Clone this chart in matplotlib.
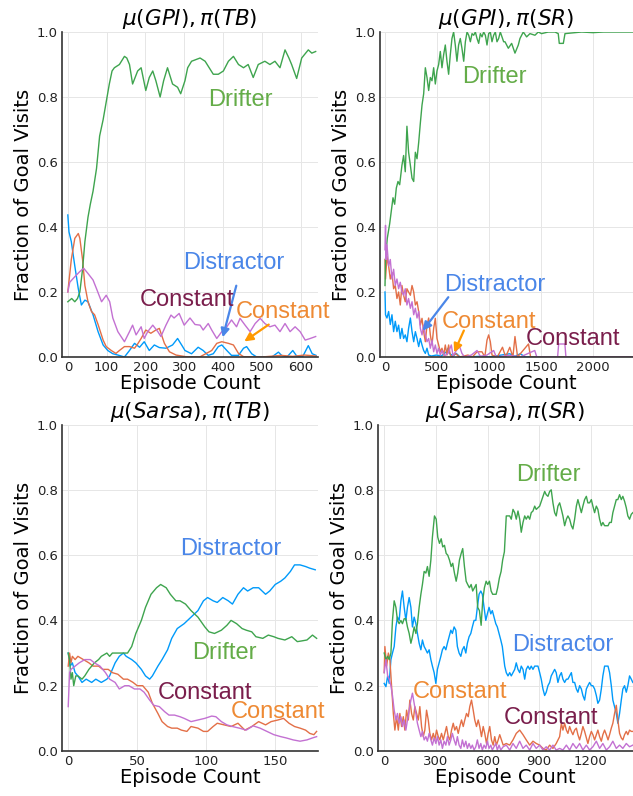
import matplotlib
matplotlib.use("Agg")
import matplotlib.pyplot as plt

# ---------------- data ----------------
# Panel 1: mu(GPI), pi(TB)
p1_drifter_x = [0, 10, 18, 25, 31, 38, 44, 52, 58, 65, 74, 82, 91, 99, 107, 114, 120, 133, 146, 152, 159, 167, 180, 189, 201, 210, 219, 227, 238, 247, 257, 270, 283, 291, 302, 309, 319, 341, 354, 375, 388, 401, 414, 427, 440, 453, 465, 478, 491, 508, 521, 534, 547, 560, 570, 577, 590, 603, 620, 629, 639]
p1_drifter_y = [.17, .18, .17, .18, .20, .27, .355, .43, .47, .51, .58, .68, .73, .785, .84, .88, .89, .90, .925, .92, .90, .84, .88, .89, .82, .86, .88, .85, .80, .85, .89, .84, .83, .81, .85, .89, .91, .92, .91, .87, .87, .88, .91, .925, .90, .89, .90, .86, .90, .91, .90, .91, .89, .945, .92, .90, .857, .92, .945, .935, .94]
p1_distr_x = [0, 3, 9, 18, 27, 35, 44, 52, 65, 78, 91, 103, 116, 129, 146, 159, 172, 185, 197, 210, 223, 236, 253, 270, 283, 296, 302, 319, 336, 349, 362, 375, 388, 397, 410, 422, 440, 453, 461, 474, 487, 526, 543, 551, 565, 580, 590, 605, 620, 630, 640]
p1_distr_y = [.437, .385, .355, .28, .21, .16, .175, .17, .13, .078, .037, .02, .01, .006, .0, .02, .042, .03, .047, .02, .037, .029, .027, .037, .057, .032, .02, .01, .03, .02, .005, .01, .032, .037, .02, .005, .005, .027, .032, .01, .0, .0, .015, .005, .0, .02, .003, .0, .035, .01, .005]
p1_const_o_x = [0, 9, 18, 27, 31, 38, 44, 52, 61, 69, 78, 91, 99, 112, 124, 133, 146, 159, 172, 180, 189, 201, 214, 227, 236, 249, 262, 279, 304, 340, 371, 384, 397, 414, 427, 440, 453, 500, 550, 580, 610, 640]
p1_const_o_y = [.2, .30, .365, .38, .365, .30, .22, .17, .14, .13, .10, .052, .032, .02, .011, .02, .032, .032, .027, .04, .057, .083, .073, .083, .088, .042, .016, .006, .001, .0, .02, .042, .047, .042, .037, .011, .001, .0, .005, .002, .006, .003]
p1_const_p_x = [0, 5, 18, 31, 41, 52, 65, 74, 87, 99, 108, 116, 129, 146, 159, 167, 176, 189, 197, 206, 219, 232, 240, 253, 266, 274, 287, 300, 315, 328, 341, 349, 362, 371, 384, 397, 410, 422, 435, 444, 457, 470, 483, 496, 508, 521, 534, 547, 560, 573, 586, 599, 612, 625, 639]
p1_const_p_y = [.2, .23, .247, .263, .273, .257, .237, .21, .17, .19, .17, .12, .078, .047, .078, .098, .068, .093, .057, .078, .098, .078, .063, .098, .129, .12, .134, .098, .12, .10, .098, .083, .103, .083, .057, .078, .093, .114, .093, .119, .098, .078, .103, .119, .103, .093, .098, .078, .103, .078, .093, .078, .052, .057, .063]

# Panel 2: mu(GPI), pi(SR)
p2_drifter_x = [0, 5, 22, 45, 61, 77, 93, 109, 125, 141, 163, 179, 195, 211, 227, 244, 260, 276, 292, 308, 324, 340, 356, 372, 388, 404, 420, 436, 452, 468, 484, 500, 516, 532, 548, 564, 580, 596, 612, 628, 644, 660, 676, 692, 708, 724, 740, 757, 773, 789, 805, 821, 837, 853, 869, 885, 901, 917, 933, 949, 965, 981, 997, 1013, 1029, 1045, 1061, 1077, 1093, 1109, 1125, 1141, 1154, 1186, 1218, 1250, 1282, 1298, 1330, 1362, 1394, 1442, 1474, 1506, 1570, 1634, 1666, 1676, 1715, 1731, 1795, 1891, 2000, 2100, 2385]
p2_drifter_y = [.22, .30, .365, .41, .45, .49, .47, .52, .54, .53, .59, .62, .57, .71, .63, .59, .55, .54, .63, .61, .66, .72, .775, .81, .89, .86, .82, .86, .85, .89, .84, .88, .90, .94, .89, .93, .96, .91, .87, .93, .98, 1.0, .96, .91, .96, .98, .95, .91, .97, 1.0, .99, .97, .995, .99, 1.0, .98, .965, .995, .985, 1.0, .99, .96, .995, 1.0, .97, .99, 1.0, .97, .98, 1.0, .985, .97, .97, .95, .965, .935, .96, .98, 1.0, .985, .995, .99, 1.0, .995, 1.0, 1.0, .995, .965, .965, .995, .997, 1.0, .998, 1.0, 1.0]
p2_distr_x = [0, 5, 19, 35, 51, 67, 83, 99, 115, 131, 147, 163, 179, 195, 211, 227, 244, 260, 276, 292, 308, 324, 340, 356, 372, 388, 404, 420, 446, 494, 542, 590, 606, 622, 654, 686, 718, 800, 900, 1000, 1200, 1250, 1300, 1350, 2385]
p2_distr_y = [.2, .13, .12, .14, .10, .13, .078, .11, .078, .098, .057, .088, .057, .068, .047, .088, .12, .078, .047, .078, .057, .032, .057, .037, .02, .011, .027, .006, .003, .006, .003, .016, .027, .011, .003, .011, .001, .0, .002, .0, .01, .002, .01, .0, .0]
p2_const_o_x = [0, 5, 19, 35, 51, 67, 83, 99, 115, 131, 147, 163, 179, 195, 211, 227, 244, 260, 276, 292, 308, 324, 340, 356, 372, 388, 404, 420, 436, 452, 468, 484, 500, 516, 532, 548, 564, 580, 596, 612, 628, 644, 676, 718, 798, 840, 885, 933, 960, 981, 997, 1013, 1029, 1080, 1130, 1160, 1200, 1230, 1250, 1275, 1380, 1400, 2385]
p2_const_o_y = [.30, .24, .31, .28, .24, .26, .21, .22, .18, .20, .16, .22, .19, .17, .21, .20, .19, .22, .20, .16, .17, .14, .098, .119, .078, .047, .098, .12, .068, .037, .088, .119, .057, .037, .016, .027, .006, .037, .006, .037, .006, .0, .011, .0, .006, .0, .016, .016, .0, .052, .068, .047, .006, .0, .03, .0, .03, .0, .063, .0, .04, .0, .0]
p2_const_p_x = [0, 5, 10, 19, 35, 51, 67, 83, 99, 115, 131, 147, 163, 179, 195, 211, 227, 244, 260, 276, 292, 308, 324, 340, 356, 372, 388, 404, 420, 436, 452, 468, 484, 500, 516, 532, 548, 574, 606, 638, 654, 686, 718, 740, 766, 830, 885, 917, 981, 1045, 1070, 1200, 1300, 1440, 1460, 1660, 1670, 1730, 1740, 2385]
p2_const_p_y = [.33, .405, .30, .345, .28, .30, .24, .27, .22, .24, .21, .23, .20, .19, .21, .16, .18, .15, .17, .13, .15, .12, .14, .088, .068, .098, .068, .047, .057, .027, .052, .016, .037, .011, .027, .006, .02, .004, .011, .037, .004, .02, .032, .011, .0, .006, .02, .002, .006, .02, .0, .005, .0, .02, .0, .0, .04, .04, .0, .0]

# Panel 3: mu(Sarsa), pi(TB)
p3_drifter_x = [0, 1, 2, 3, 4, 5.5, 7, 10, 12, 15, 17, 19, 22, 24, 28, 30, 32, 36, 40, 43, 46, 49, 53, 56, 60, 64, 67, 71, 74, 78, 81, 85, 89, 94, 99, 102, 106, 111, 115, 118, 122, 126, 129, 133, 136, 141, 145, 149, 152, 157, 162, 166, 169, 173, 177, 180]
p3_drifter_y = [.30, .28, .22, .24, .20, .23, .23, .22, .23, .25, .26, .27, .28, .29, .30, .29, .30, .30, .30, .30, .32, .36, .40, .44, .48, .50, .51, .50, .48, .46, .46, .45, .43, .41, .38, .365, .36, .37, .385, .40, .39, .375, .37, .365, .35, .345, .355, .35, .345, .34, .35, .335, .337, .34, .355, .345]
p3_distr_x = [0, 1.4, 3, 5, 7, 10, 13, 17, 20, 24, 28, 30, 34, 37, 40, 42, 46, 49, 53, 56, 59, 61, 65, 68, 72, 75, 79, 84, 89, 94, 98, 101, 105, 108, 112, 116, 119, 123, 127, 130, 134, 138, 143, 146, 150, 154, 157, 161, 164, 168, 172, 175, 179]
p3_distr_y = [.30, .26, .27, .24, .23, .21, .22, .21, .22, .21, .22, .23, .27, .29, .30, .29, .28, .27, .25, .23, .22, .23, .26, .28, .31, .345, .375, .39, .41, .43, .46, .47, .46, .455, .47, .46, .45, .48, .50, .49, .50, .50, .48, .49, .51, .52, .53, .55, .57, .57, .565, .56, .555]
p3_const_o_x = [0, 1, 2, 3, 5, 7, 11, 15, 18, 22, 25, 29, 32, 36, 40, 43, 47, 50, 54, 58, 61, 65, 68, 72, 75, 79, 82, 86, 89, 94, 98, 101, 105, 108, 113, 118, 123, 128, 133, 138, 143, 147, 152, 156, 160, 164, 168, 172, 175, 178, 180]
p3_const_o_y = [.26, .30, .27, .29, .28, .29, .28, .27, .26, .26, .25, .25, .24, .235, .22, .22, .21, .20, .20, .18, .146, .115, .09, .075, .07, .07, .064, .06, .075, .07, .06, .06, .075, .085, .08, .075, .085, .064, .075, .09, .08, .09, .095, .10, .085, .075, .07, .064, .054, .05, .06]
p3_const_p_x = [0, 1, 2, 5, 8, 12, 16, 19, 23, 27, 30, 34, 37, 41, 44, 48, 52, 55, 59, 62, 66, 70, 73, 77, 81, 84, 89, 94, 99, 104, 107, 111, 115, 119, 124, 129, 134, 139, 144, 149, 154, 158, 163, 168, 173, 177, 180]
p3_const_p_y = [.136, .24, .25, .26, .27, .28, .28, .27, .26, .24, .22, .21, .19, .20, .20, .19, .19, .18, .156, .14, .136, .12, .11, .11, .105, .10, .09, .095, .10, .107, .105, .09, .08, .075, .07, .064, .077, .07, .06, .05, .044, .04, .034, .03, .034, .04, .044]

# Panel 4: mu(Sarsa), pi(SR)
p4_drifter_x = [0, 10, 20, 29, 39, 48, 58, 68, 77, 87, 97, 106, 116, 126, 135, 145, 155, 164, 174, 184, 193, 203, 213, 222, 232, 242, 251, 261, 271, 280, 292, 302, 311, 321, 331, 340, 350, 360, 369, 379, 389, 398, 408, 418, 427, 437, 447, 456, 466, 476, 485, 495, 505, 514, 524, 534, 543, 553, 563, 572, 582, 592, 601, 611, 621, 630, 640, 650, 659, 669, 679, 688, 698, 709, 719, 729, 738, 748, 758, 767, 777, 787, 796, 806, 816, 825, 835, 845, 854, 864, 874, 883, 903, 922, 932, 941, 951, 961, 970, 980, 990, 999, 1009, 1019, 1029, 1038, 1048, 1058, 1067, 1077, 1087, 1096, 1106, 1116, 1125, 1135, 1145, 1154, 1164, 1174, 1183, 1193, 1203, 1212, 1222, 1232, 1241, 1251, 1261, 1270, 1280, 1290, 1300, 1309, 1319, 1328, 1338, 1348, 1357, 1367, 1377, 1386, 1396, 1406, 1415, 1425, 1435, 1444]
p4_drifter_y = [.30, .28, .29, .28, .30, .40, .46, .44, .40, .39, .40, .39, .405, .405, .38, .36, .33, .35, .38, .36, .39, .44, .48, .51, .55, .545, .565, .535, .585, .655, .72, .71, .655, .636, .65, .625, .63, .605, .60, .585, .565, .575, .545, .52, .545, .585, .605, .62, .565, .52, .51, .50, .51, .49, .50, .51, .44, .43, .385, .46, .50, .52, .51, .52, .49, .48, .48, .48, .50, .53, .55, .585, .61, .72, .72, .72, .71, .74, .73, .71, .735, .71, .67, .70, .72, .71, .72, .71, .73, .735, .75, .74, .75, .78, .795, .785, .78, .795, .80, .76, .73, .72, .75, .76, .74, .72, .69, .71, .72, .71, .69, .68, .71, .75, .77, .75, .73, .75, .77, .78, .76, .76, .77, .75, .73, .75, .74, .71, .69, .70, .69, .69, .69, .70, .70, .73, .75, .77, .77, .785, .77, .78, .765, .745, .72, .71, .725, .73]
p4_distr_x = [0, 10, 20, 29, 39, 48, 58, 68, 77, 87, 97, 106, 116, 126, 135, 145, 155, 164, 174, 184, 193, 203, 213, 222, 232, 242, 251, 261, 271, 280, 290, 300, 309, 319, 329, 338, 348, 358, 367, 377, 387, 396, 406, 416, 425, 435, 445, 454, 464, 474, 483, 493, 503, 512, 522, 532, 541, 551, 561, 570, 580, 590, 599, 609, 619, 628, 638, 648, 657, 667, 677, 686, 700, 709, 719, 729, 738, 748, 758, 767, 777, 787, 796, 806, 816, 825, 835, 845, 854, 864, 874, 883, 893, 903, 912, 922, 932, 941, 951, 961, 970, 980, 990, 999, 1009, 1019, 1029, 1038, 1048, 1058, 1067, 1077, 1087, 1096, 1106, 1116, 1125, 1135, 1145, 1154, 1164, 1174, 1183, 1193, 1203, 1212, 1222, 1232, 1241, 1251, 1261, 1270, 1280, 1290, 1300, 1309, 1319, 1328, 1338, 1348, 1357, 1367, 1377, 1386, 1396, 1406, 1415, 1425, 1435, 1444]
p4_distr_y = [.207, .197, .23, .207, .28, .30, .32, .38, .41, .40, .46, .49, .44, .40, .44, .47, .44, .38, .41, .39, .36, .33, .31, .34, .32, .31, .30, .31, .28, .26, .24, .207, .25, .27, .29, .31, .32, .31, .33, .35, .37, .36, .38, .37, .32, .30, .29, .31, .32, .30, .33, .35, .36, .38, .40, .40, .44, .48, .49, .48, .44, .40, .42, .44, .42, .43, .41, .39, .38, .36, .34, .32, .26, .24, .23, .24, .23, .24, .25, .27, .25, .24, .26, .25, .22, .25, .26, .25, .26, .25, .26, .26, .26, .24, .22, .19, .17, .18, .20, .21, .23, .24, .25, .24, .21, .23, .24, .22, .21, .22, .22, .23, .24, .21, .21, .19, .18, .20, .19, .17, .156, .19, .20, .21, .20, .20, .19, .17, .146, .156, .19, .23, .26, .26, .26, .24, .20, .156, .136, .115, .085, .115, .156, .19, .20, .18, .20, .23, .22, .21]
p4_const_o_x = [0, 4, 14, 24, 33, 43, 53, 62, 72, 82, 91, 101, 111, 120, 130, 140, 149, 159, 169, 178, 188, 198, 207, 217, 227, 236, 246, 256, 265, 275, 285, 294, 304, 314, 323, 333, 343, 352, 362, 372, 381, 391, 401, 410, 420, 430, 439, 449, 459, 468, 478, 488, 497, 507, 517, 526, 536, 546, 555, 565, 575, 584, 594, 604, 613, 623, 633, 642, 652, 662, 671, 681, 691, 709, 729, 748, 767, 787, 806, 825, 845, 864, 883, 903, 922, 941, 961, 980, 999, 1019, 1029, 1038, 1048, 1058, 1067, 1077, 1087, 1096, 1106, 1116, 1125, 1135, 1145, 1154, 1164, 1174, 1183, 1193, 1203, 1212, 1222, 1232, 1241, 1251, 1261, 1270, 1280, 1290, 1300, 1309, 1319, 1328, 1338, 1348, 1357, 1367, 1377, 1386, 1396, 1406, 1415, 1425, 1435, 1444]
p4_const_o_y = [.24, .32, .26, .30, .28, .20, .115, .064, .105, .064, .115, .075, .105, .064, .125, .095, .156, .115, .095, .136, .115, .095, .136, .075, .044, .064, .125, .095, .054, .034, .054, .034, .064, .044, .034, .054, .034, .054, .075, .044, .034, .064, .085, .064, .075, .054, .075, .095, .075, .095, .115, .105, .136, .156, .125, .095, .075, .095, .075, .044, .075, .054, .023, .054, .075, .034, .018, .044, .018, .034, .05, .034, .018, .023, .018, .034, .054, .064, .05, .034, .018, .03, .023, .018, .008, .003, .018, .008, .023, .044, .085, .064, .085, .064, .054, .075, .06, .05, .064, .07, .05, .034, .054, .075, .06, .04, .023, .044, .06, .05, .034, .05, .064, .044, .03, .05, .064, .05, .034, .05, .07, .085, .115, .14, .095, .054, .04, .034, .05, .06, .05, .064, .06, .06]
p4_const_p_x = [0, 10, 20, 29, 39, 48, 58, 68, 77, 87, 97, 106, 116, 126, 135, 145, 155, 164, 174, 184, 193, 203, 213, 222, 232, 242, 251, 261, 271, 280, 290, 300, 309, 319, 329, 338, 348, 358, 367, 377, 387, 396, 406, 416, 425, 435, 445, 454, 464, 474, 483, 493, 503, 512, 522, 532, 541, 551, 561, 570, 580, 590, 599, 609, 619, 628, 638, 648, 657, 667, 677, 691, 709, 729, 748, 767, 787, 806, 825, 845, 864, 883, 903, 922, 941, 961, 980, 999, 1019, 1038, 1058, 1077, 1096, 1116, 1135, 1154, 1174, 1193, 1212, 1232, 1251, 1270, 1290, 1309, 1328, 1348, 1367, 1386, 1406, 1425, 1444]
p4_const_p_y = [.24, .28, .23, .22, .20, .17, .125, .095, .115, .085, .105, .075, .095, .064, .095, .125, .156, .177, .146, .115, .085, .064, .044, .06, .034, .044, .03, .054, .034, .018, .04, .023, .044, .018, .034, .008, .03, .018, .044, .018, .034, .054, .034, .018, .044, .018, .008, .034, .013, .03, .008, .023, .008, .018, .003, .013, .034, .008, .023, .003, .018, .008, .03, .008, .018, .003, .013, .023, .003, .018, .003, .013, .018, .003, .023, .008, .03, .008, .018, .003, .023, .008, .018, .003, .013, .003, .018, .003, .008, .003, .018, .003, .023, .008, .023, .003, .018, .003, .013, .03, .008, .023, .003, .013, .03, .008, .018, .008, .023, .013, .018]

titles = [r"$\mu(GPI),\pi(TB)$", r"$\mu(GPI),\pi(SR)$", r"$\mu(Sarsa),\pi(TB)$", r"$\mu(Sarsa),\pi(SR)$"]
xticks = [[0, 100, 200, 300, 400, 500, 600], [0, 500, 1000, 1500, 2000], [0, 50, 100, 150], [0, 300, 600, 900, 1200]]
xlims = [(-15, 645), (-48, 2385), (-4.5, 181), (-36, 1445)]
yticks = [0.0, 0.2, 0.4, 0.6, 0.8, 1.0]
xlabel = "Episode Count"
ylabel = "Fraction of Goal Visits"

# ---------------- style ----------------
C_BLUE = "#009AFA"
C_ORANGE = "#E36F47"
C_GREEN = "#3EA44E"
C_PURPLE = "#C371D2"
T_GREEN = "#64AC48"
T_BLUE = "#4A86E8"
T_MAROON = "#7A1E4C"
T_ORANGE = "#EE8A34"
A_ORANGE = "#FF9900"

plt.rcParams["font.family"] = ["DejaVu Sans"]
plt.rcParams["mathtext.fontset"] = "dejavusans"

W, H = 633, 796
fig = plt.figure(figsize=(W / 100, H / 100), dpi=100)

def px_axes(l, t, r, b):
    return [l / W, 1 - b / H, (r - l) / W, (b - t) / H]

rects = [px_axes(62, 32, 318, 357), px_axes(380, 32, 633, 357),
         px_axes(62, 424.5, 318, 751), px_axes(378, 424.5, 633, 751)]

panels = [
    [(p1_distr_x, p1_distr_y, C_BLUE), (p1_const_o_x, p1_const_o_y, C_ORANGE), (p1_drifter_x, p1_drifter_y, C_GREEN), (p1_const_p_x, p1_const_p_y, C_PURPLE)],
    [(p2_distr_x, p2_distr_y, C_BLUE), (p2_const_o_x, p2_const_o_y, C_ORANGE), (p2_drifter_x, p2_drifter_y, C_GREEN), (p2_const_p_x, p2_const_p_y, C_PURPLE)],
    [(p3_distr_x, p3_distr_y, C_BLUE), (p3_const_o_x, p3_const_o_y, C_ORANGE), (p3_drifter_x, p3_drifter_y, C_GREEN), (p3_const_p_x, p3_const_p_y, C_PURPLE)],
    [(p4_distr_x, p4_distr_y, C_BLUE), (p4_const_o_x, p4_const_o_y, C_ORANGE), (p4_drifter_x, p4_drifter_y, C_GREEN), (p4_const_p_x, p4_const_p_y, C_PURPLE)],
]

axes = []
for i in range(4):
    ax = fig.add_axes(rects[i])
    for xs, ys, c in panels[i]:
        ax.plot(xs, ys, color=c, lw=1.0)
    ax.set_xlim(*xlims[i])
    ax.set_ylim(0, 1)
    ax.set_xticks(xticks[i])
    ax.set_yticks(yticks)
    ax.set_yticklabels([f"{v:.1f}" for v in yticks])
    ax.grid(True, color="#E6E6E6", lw=0.7)
    ax.set_axisbelow(True)
    for s in ("top", "right"):
        ax.spines[s].set_visible(False)
    for s in ("left", "bottom"):
        ax.spines[s].set_color("#333333")
        ax.spines[s].set_linewidth(1.2)
    ax.tick_params(length=0, labelsize=9.5, colors="#222222", pad=3)
    ax.set_title(titles[i], fontsize=15.5, pad=5)
    ax.set_xlabel(xlabel, fontsize=14, labelpad=0)
    ax.set_ylabel(ylabel, fontsize=14, labelpad=3)
    axes.append(ax)

def ftext(x, y, s, color):
    fig.text(x / W, 1 - y / H, s, color=color, fontsize=17, ha="center", va="center",
             family=["Liberation Sans", "DejaVu Sans"])

def farrow(x0, y0, x1, y1, color):
    fig.add_artist(matplotlib.patches.FancyArrowPatch(
        (x0 / W, 1 - y0 / H), (x1 / W, 1 - y1 / H), transform=fig.transFigure,
        arrowstyle="-|>,head_length=5,head_width=2.5", color=color, lw=1.6))

# panel 1 annotations
ftext(240, 100, "Drifter", T_GREEN)
ftext(234, 263, "Distractor", T_BLUE)
ftext(187, 300, "Constant", T_MAROON)
ftext(283, 312, "Constant", T_ORANGE)
farrow(237, 283, 222, 340, T_BLUE)
farrow(271, 323, 242, 343, A_ORANGE)
# panel 2 annotations
ftext(494, 77, "Drifter", T_GREEN)
ftext(495, 285, "Distractor", T_BLUE)
ftext(489, 322, "Constant", T_ORANGE)
ftext(573, 339, "Constant", T_MAROON)
farrow(450, 295, 421, 333, T_BLUE)
farrow(465, 328, 453, 355, A_ORANGE)
# panel 3 annotations
ftext(231, 549, "Distractor", T_BLUE)
ftext(224, 653, "Drifter", T_GREEN)
ftext(205, 693, "Constant", T_MAROON)
ftext(278, 712, "Constant", T_ORANGE)
# panel 4 annotations
ftext(548, 475, "Drifter", T_GREEN)
ftext(563, 645, "Distractor", T_BLUE)
ftext(460, 692, "Constant", T_ORANGE)
ftext(551, 718, "Constant", T_MAROON)

fig.savefig("out.png", dpi=100)
